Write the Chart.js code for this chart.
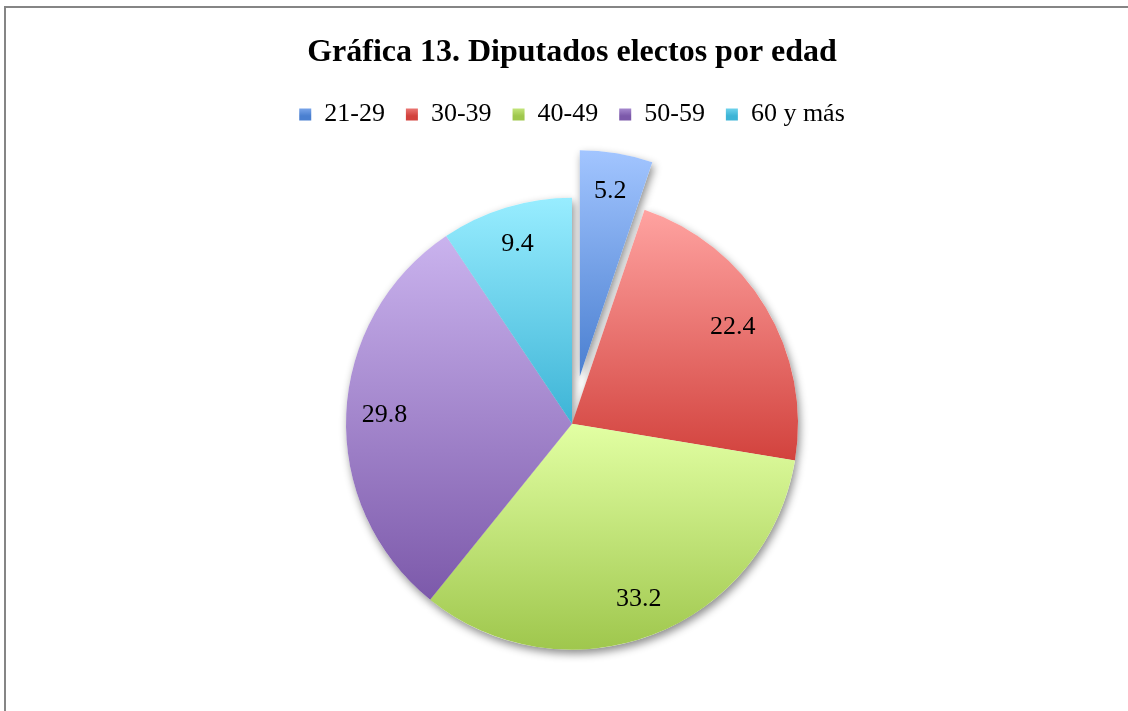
<!DOCTYPE html>
<html>
<head>
<meta charset="utf-8">
<script src="https://cdn.jsdelivr.net/npm/chart.js@4/dist/chart.umd.min.js"></script>
<style>
  html, body { margin: 0; padding: 0; width: 1128px; height: 711px; overflow: hidden; background: #fff; }
  #frame { position: absolute; left: 4px; top: 6px; width: 1200px; height: 800px;
           border-left: 2px solid #858585; border-top: 2px solid #858585; }
  #wrap { position: absolute; left: 0; top: 0; }
</style>
</head>
<body>
<div id="frame"></div>
<div id="wrap"><canvas id="myChart" width="1128" height="760"></canvas></div>
<script>
/* Gráfica 13 - pie */

let categories = ["21-29", "30-39", "40-49", "50-59", "60 y más"];
let values = [5.2, 22.4, 33.2, 29.8, 9.4];
let explode = [48, 0, 0, 0, 0];

let lightColors = ["#a2c5ff", "#ffa3a1", "#e2ffa3", "#cab3ee", "#98edff"];
let darkColors = ["#4a7fd0", "#d2423d", "#9fc74d", "#7c59aa", "#3db4d6"];

const R = 226;
const serif = "'Liberation Serif', 'Times New Roman', serif";

function sliceFill(ctx) {
  let chart = ctx.chart;
  let i = ctx.dataIndex;
  let area = chart.chartArea;
  if (!area || i === undefined) return darkColors[i || 0];
  let total = values.reduce((a, b) => a + b, 0);
  let before = values.slice(0, i).reduce((a, b) => a + b, 0);
  let a0 = -Math.PI / 2 + 2 * Math.PI * before / total;
  let a1 = a0 + 2 * Math.PI * values[i] / total;
  let mid = (a0 + a1) / 2;
  let cx = (area.left + area.right) / 2 + Math.cos(mid) * explode[i];
  let cy = (area.top + area.bottom) / 2 + Math.sin(mid) * explode[i];
  let ys = [cy, cy + R * Math.sin(a0), cy + R * Math.sin(a1)];
  if (Math.PI / 2 > a0 && Math.PI / 2 < a1) ys.push(cy + R);
  let g = chart.ctx.createLinearGradient(0, Math.min(...ys), 0, Math.max(...ys));
  g.addColorStop(0, lightColors[i]);
  g.addColorStop(1, darkColors[i]);
  return g;
}

// pull the exploded slice out, shadow under the pie, value labels
const explodePlugin = {
  id: "explode",
  afterDatasetsUpdate(chart) {
    chart.getDatasetMeta(0).data.forEach(function (arc, i) {
      if (!explode[i]) return;
      let mid = (arc.startAngle + arc.endAngle) / 2;
      arc.x += Math.cos(mid) * explode[i];
      arc.y += Math.sin(mid) * explode[i];
    });
  },
  beforeDatasetsDraw(chart) {
    let c = chart.ctx;
    c.save();
    c.shadowColor = "rgba(0,0,0,0.45)";
    c.shadowBlur = 8;
    c.shadowOffsetX = 2;
    c.shadowOffsetY = 4;
    c.fillStyle = "#fff";
    chart.getDatasetMeta(0).data.forEach(function (arc) {
      c.beginPath();
      c.moveTo(arc.x, arc.y);
      c.arc(arc.x, arc.y, arc.outerRadius, arc.startAngle, arc.endAngle);
      c.closePath();
      c.fill();
    });
    c.restore();
  },
  afterDatasetsDraw(chart) {
    let c = chart.ctx;
    c.save();
    c.font = "26px " + serif;
    c.fillStyle = "#000";
    c.textAlign = "center";
    c.textBaseline = "middle";
    chart.getDatasetMeta(0).data.forEach(function (arc, i) {
      let mid = (arc.startAngle + arc.endAngle) / 2;
      let r = arc.outerRadius * 0.83;
      c.fillText(values[i].toFixed(1), arc.x + Math.cos(mid) * r, arc.y + Math.sin(mid) * r);
    });
    c.restore();
  },
  beforeDraw(chart) {
    let lg = chart.legend;
    if (!lg || !lg.legendItems) return;
    let midY = (lg.top + lg.bottom) / 2;
    lg.legendItems.forEach(function (item, i) {
      let g = chart.ctx.createLinearGradient(0, midY - 7, 0, midY + 7);
      g.addColorStop(0, lightColors[i]);
      g.addColorStop(1, darkColors[i]);
      item.fillStyle = g;
      item.lineWidth = 0;
    });
  }
};

new Chart("myChart", {
  type: "pie",
  data: {
    labels: categories,
    datasets: [
      {
        data: values,
        backgroundColor: sliceFill,
        borderWidth: 0,
      },
    ],
  },
  options: {
    responsive: false,
    animation: false,
    events: [],
    devicePixelRatio: 1,
    radius: R,
    layout: { padding: { left: 16, right: 0, top: 24, bottom: 50 } },
    plugins: {
      title: {
        display: true,
        text: "Gráfica 13. Diputados electos por edad",
        color: "#000",
        font: { family: serif, size: 32, weight: "bold" },
        padding: { top: 10, bottom: 8 },
      },
      legend: {
        position: "top",
        labels: {
          color: "#000",
          font: { family: serif, size: 26 },
          boxWidth: 12,
          boxHeight: 12,
          padding: 21,
        },
      },
      tooltip: { enabled: false },
    },
  },
  plugins: [explodePlugin],
});
</script>
</body>
</html>
